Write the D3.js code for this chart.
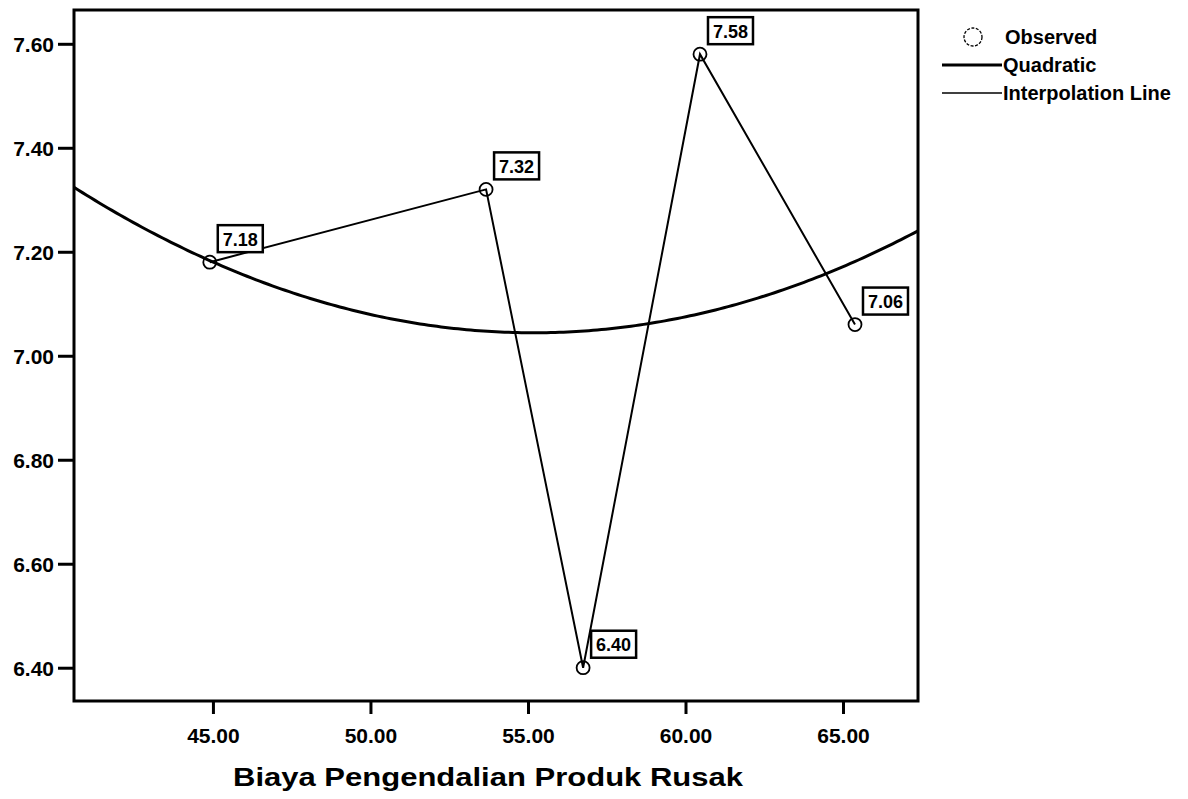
<!DOCTYPE html>
<html><head><meta charset="utf-8">
<script src="https://cdn.jsdelivr.net/npm/d3@7"></script>
<style>body{margin:0;background:#fff}svg{display:block}text{font-family:"Liberation Sans",Arial,sans-serif;font-weight:bold;fill:#000}</style>
</head><body>
<svg id="c" width="1188" height="799"></svg>
<script>
// Data
const xValues = [44.9, 53.67, 56.75, 60.46, 65.38];
const yValues = [7.18, 7.32, 6.40, 7.58, 7.06];
const xTicks = [45, 50, 55, 60, 65];
const yTicks = [6.40, 6.60, 6.80, 7.00, 7.20, 7.40, 7.60];
const legendLabels = ["Observed", "Quadratic", "Interpolation Line"];
const xTitle = "Biaya Pengendalian Produk Rusak";

const svg = d3.select("#c");
const L = 74, R = 918, T = 10, B = 701;
const x = d3.scaleLinear().domain([40.59, 67.38]).range([L, R]);
const y = d3.scaleLinear().domain([6.336, 7.665]).range([B, T]);
const fmt = d3.format(".2f");

// least-squares quadratic fit of observed points
function quadFit(xs, ys) {
  const n = xs.length; let S = [0,0,0,0,0], Sy = [0,0,0];
  for (let i = 0; i < n; i++) {
    let p = 1;
    for (let k = 0; k < 5; k++) { S[k] += p; if (k < 3) Sy[k] += p * ys[i]; p *= xs[i]; }
  }
  const M = [[S[0],S[1],S[2],Sy[0]],[S[1],S[2],S[3],Sy[1]],[S[2],S[3],S[4],Sy[2]]];
  for (let i = 0; i < 3; i++) {
    for (let j = i+1; j < 3; j++) { const f = M[j][i]/M[i][i]; for (let k = i; k < 4; k++) M[j][k] -= f*M[i][k]; }
  }
  const c = [0,0,0];
  for (let i = 2; i >= 0; i--) { let s = M[i][3]; for (let k = i+1; k < 3; k++) s -= M[i][k]*c[k]; c[i] = s/M[i][i]; }
  return v => c[0] + c[1]*v + c[2]*v*v;
}
const q = quadFit(xValues, yValues);

// axes
const xAxis = svg.append("g").attr("transform", `translate(0,${B})`)
  .call(d3.axisBottom(x).tickValues(xTicks).tickFormat(fmt).tickSize(13).tickPadding(10));
const yAxis = svg.append("g").attr("transform", `translate(${L},0)`)
  .call(d3.axisLeft(y).tickValues(yTicks).tickFormat(fmt).tickSize(16).tickPadding(4));
[xAxis, yAxis].forEach(g => {
  g.select(".domain").remove();
  g.selectAll(".tick line").attr("stroke", "#000").attr("stroke-width", 3);
  g.selectAll(".tick text").style("font-size", "21px").attr("fill", "#000");
});
yAxis.selectAll(".tick text").attr("dy", "0.36em");
xAxis.selectAll(".tick text").attr("dy", "0.9em");

// frame
svg.append("rect").attr("x", L).attr("y", T).attr("width", R - L).attr("height", B - T)
  .attr("fill", "none").attr("stroke", "#000").attr("stroke-width", 3);

// quadratic curve
const xs = d3.range(0, 201).map(i => x.domain()[0] + (x.domain()[1] - x.domain()[0]) * i / 200);
svg.append("path").datum(xs)
  .attr("d", d3.line().x(d => x(d)).y(d => y(q(d))))
  .attr("fill", "none").attr("stroke", "#000").attr("stroke-width", 3);

// interpolation line
const pts = xValues.map((v, i) => [v, yValues[i]]);
svg.append("path").datum(pts)
  .attr("d", d3.line().x(d => x(d[0])).y(d => y(d[1])))
  .attr("fill", "none").attr("stroke", "#000").attr("stroke-width", 2);

// observed points
svg.selectAll("circle.obs").data(pts).join("circle").attr("class", "obs")
  .attr("cx", d => x(d[0])).attr("cy", d => y(d[1])).attr("r", 6.5)
  .attr("fill", "none").attr("stroke", "#000").attr("stroke-width", 1.8);

// value labels
const lab = svg.selectAll("g.lab").data(pts).join("g").attr("class", "lab")
  .attr("transform", d => `translate(${x(d[0]) + 8},${y(d[1]) - 37})`);
lab.append("rect").attr("width", 45).attr("height", 27)
  .attr("fill", "#fff").attr("stroke", "#000").attr("stroke-width", 2.5);
lab.append("text").attr("x", 22.5).attr("y", 20.5).attr("text-anchor", "middle")
  .style("font-size", "18px").text(d => fmt(d[1]));

// x title
svg.append("text").attr("x", (L + R) / 2 - 8).attr("y", 786).attr("text-anchor", "middle")
  .attr("textLength", 510).attr("lengthAdjust", "spacingAndGlyphs")
  .style("font-size", "25px").text(xTitle);

// legend
const lg = svg.append("g");
const rows = [37, 65, 93];
lg.append("circle").attr("cx", 973).attr("cy", rows[0]).attr("r", 9)
  .attr("fill", "none").attr("stroke", "#000").attr("stroke-width", 1.3).attr("stroke-dasharray", "3,1.5");
lg.append("line").attr("x1", 942).attr("x2", 1002).attr("y1", rows[1]).attr("y2", rows[1])
  .attr("stroke", "#000").attr("stroke-width", 3);
lg.append("line").attr("x1", 942).attr("x2", 1002).attr("y1", rows[2]).attr("y2", rows[2])
  .attr("stroke", "#000").attr("stroke-width", 1.6);
lg.selectAll("text").data(legendLabels).join("text")
  .attr("x", (d, i) => i === 0 ? 1005 : 1003).attr("y", (d, i) => rows[i] + 7)
  .style("font-size", "20px").text(d => d);
</script>
</body></html>
